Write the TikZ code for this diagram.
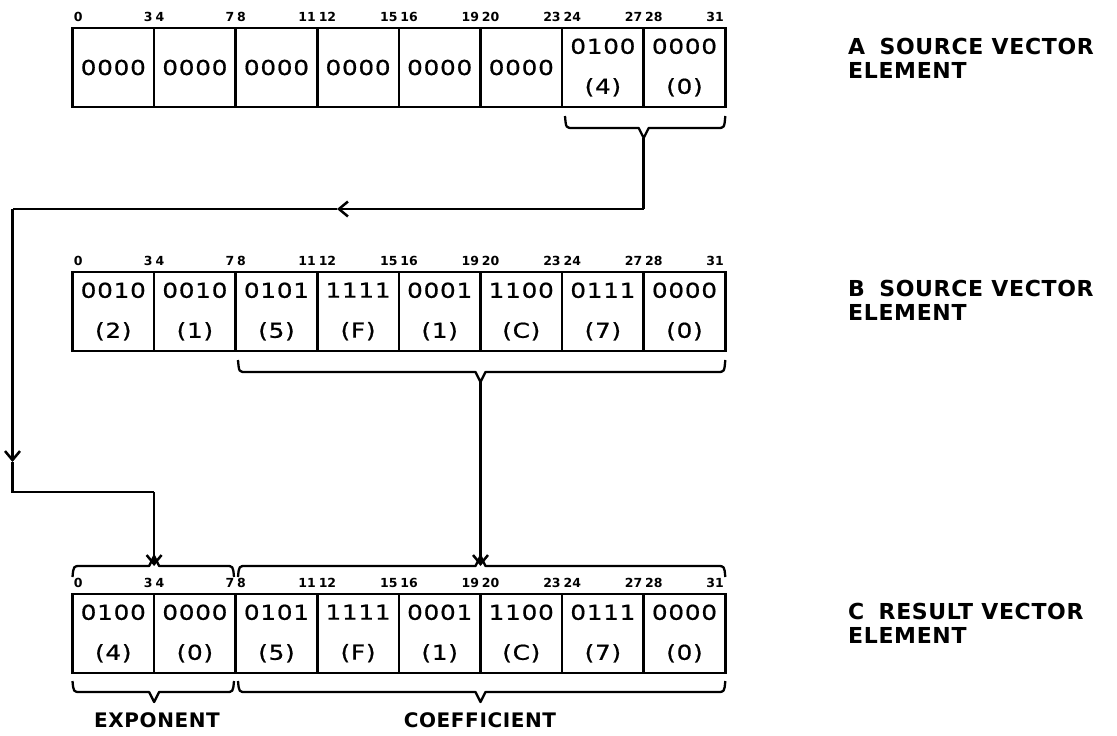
\documentclass[tikz,border=0pt]{standalone}
\usepackage{fontspec}
\setmainfont{DejaVu Sans}
\newfontfamily\cellfont{DejaVu Sans}[FakeStretch=1.2,LetterSpace=4,FakeBold=0.8]
\newfontfamily\capfont{DejaVu Sans}[LetterSpace=3]
\usetikzlibrary{arrows.meta,calc}
\newcommand{\BrDown}[5]{% x1, x2, tip x, end y, bar y
  \draw[brace] (#1,#4) .. controls (#1+1,#5) .. (#1+8,#5) -- (#3-5,#5) -- (#3,#5+10) -- (#3+5,#5) -- (#2-8,#5) .. controls (#2-1,#5) .. (#2,#4);}
\newcommand{\BrUp}[5]{% x1, x2, tip x, end y, bar y
  \draw[brace] (#1,#4) .. controls (#1+1,#5) .. (#1+8,#5) -- (#3-5,#5) -- (#3,#5-10) -- (#3+5,#5) -- (#2-8,#5) .. controls (#2-1,#5) .. (#2,#4);}
\begin{document}
\begin{tikzpicture}[x=1pt,y=-1pt,
  cell/.style={draw,line width=2.5pt,minimum width=81.6pt,minimum height=79pt,inner sep=0pt,
    align=center,font={\cellfont\fontsize{20.5}{40}\selectfont}},
  bit/.style={inner sep=0pt,font={\bfseries\fontsize{12.5}{13}\selectfont}},
  brace/.style={line width=2.3pt,line join=round},
  conn/.style={line width=2.5pt},
  arrowtip/.style={-{Straight Barb[length=9pt,width=15pt]}},
  sidelab/.style={inner sep=0pt,align=left,font={\capfont\bfseries\fontsize{22}{24}\selectfont}},
  word/.style={inner sep=0pt,font={\capfont\bfseries\fontsize{20}{22}\selectfont}}]
\useasboundingbox (0,0) rectangle (1117,736);

% ---------- A register ----------
\node[cell] (A1) at (113.3,67.5) {0000};
\node[cell] (A2) at (194.9,67.5) {0000};
\node[cell] (A3) at (276.5,67.5) {0000};
\node[cell] (A4) at (358.1,67.5) {0000};
\node[cell] (A5) at (439.7,67.5) {0000};
\node[cell] (A6) at (521.3,67.5) {0000};
\node[cell] (A7) at (602.9,67.5) {0100\\(4)};
\node[cell] (A8) at (684.5,67.5) {0000\\(0)};

% ---------- B register ----------
\node[cell] (B1) at (113.3,311.5) {0010\\(2)};
\node[cell] (B2) at (194.9,311.5) {0010\\(1)};
\node[cell] (B3) at (276.5,311.5) {0101\\(5)};
\node[cell] (B4) at (358.1,311.5) {1111\\(F)};
\node[cell] (B5) at (439.7,311.5) {0001\\(1)};
\node[cell] (B6) at (521.3,311.5) {1100\\(C)};
\node[cell] (B7) at (602.9,311.5) {0111\\(7)};
\node[cell] (B8) at (684.5,311.5) {0000\\(0)};

% ---------- C register ----------
\node[cell] (C1) at (113.3,633.5) {0100\\(4)};
\node[cell] (C2) at (194.9,633.5) {0000\\(0)};
\node[cell] (C3) at (276.5,633.5) {0101\\(5)};
\node[cell] (C4) at (358.1,633.5) {1111\\(F)};
\node[cell] (C5) at (439.7,633.5) {0001\\(1)};
\node[cell] (C6) at (521.3,633.5) {1100\\(C)};
\node[cell] (C7) at (602.9,633.5) {0111\\(7)};
\node[cell] (C8) at (684.5,633.5) {0000\\(0)};

% ---------- bit numbers ----------
\foreach \r in {A,B,C}{
  \foreach \i in {1,...,8}{
    \pgfmathtruncatemacro\lo{4*(\i-1)}
    \pgfmathtruncatemacro\hi{4*\i-1}
    \node[bit,anchor=base west] (\r\i lo) at ([xshift=2.5pt,yshift=5pt]\r\i.north west) {\lo};
    \node[bit,anchor=base east] (\r\i hi) at ([xshift=-2.5pt,yshift=5pt]\r\i.north east) {\hi};
  }
}

% ---------- braces ----------
\BrDown{565}{725.3}{643.7}{116}{128}
\BrDown{238}{725.3}{480.5}{360}{372}
\BrUp{72.5}{234}{154.1}{577}{566}
\BrUp{238}{725.3}{480.5}{577}{566}
\BrDown{72.5}{234}{154.1}{681}{692}
\BrDown{238}{725.3}{480.5}{681}{692}

% ---------- connector points ----------
\coordinate (tA) at (643.7,138);
\coordinate (c1) at (643.7,209);
\coordinate (m1) at (337,209);
\coordinate (c2) at (12.5,209);
\coordinate (m2) at (12.5,462);
\coordinate (c3) at (12.5,492);
\coordinate (c4) at (154.1,492);
\coordinate (eA) at (154.1,566);
\coordinate (tB) at (480.5,382);
\coordinate (eB) at (480.5,566);

\draw[conn] (tA) -- (c1);
\draw[conn,arrowtip] (c1) -- (m1);
\draw[conn] (m1) -- (c2);
\draw[conn,arrowtip] (c2) -- (m2);
\draw[conn] (m2) -- (c3) -- (c4);
\draw[conn,arrowtip] (c4) -- (eA);
\draw[conn,arrowtip] (tB) -- (eB);

% ---------- words ----------
\node[word] (exp) at (157,720) {EXPONENT};
\node[word] (coef) at (480,720) {COEFFICIENT};
\node[sidelab,anchor=north west] (la) at (848,38) {A\hspace{6pt} SOURCE VECTOR\\ELEMENT};
\node[sidelab,anchor=north west] (lb) at (848,280) {B\hspace{6pt} SOURCE VECTOR\\ELEMENT};
\node[sidelab,anchor=north west] (lc) at (848,603) {C\hspace{6pt} RESULT VECTOR\\ELEMENT};
\end{tikzpicture}
\end{document}
